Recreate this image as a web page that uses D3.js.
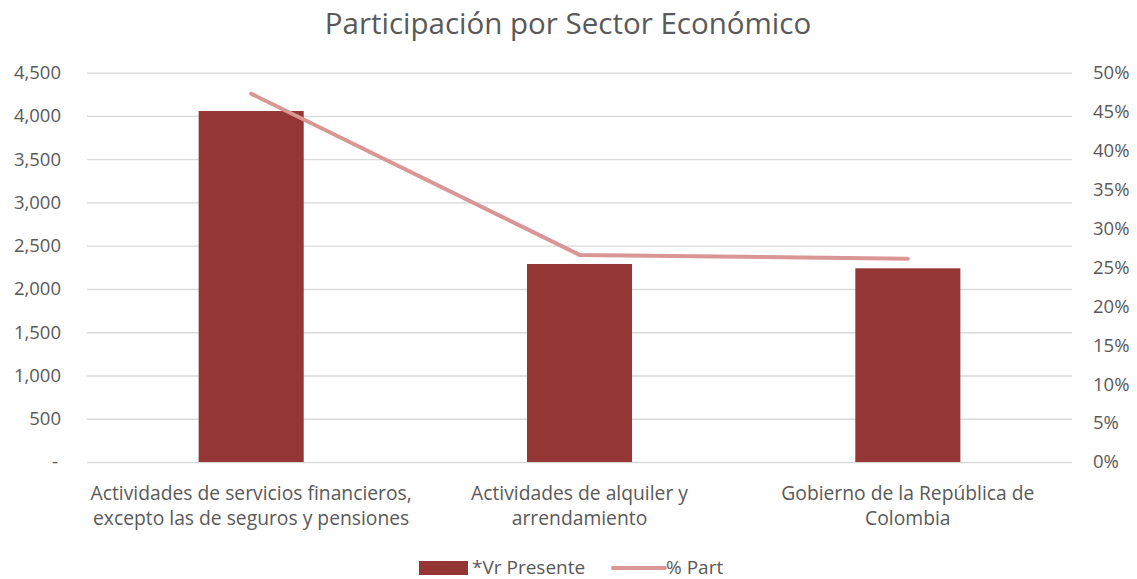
<!DOCTYPE html>
<html><head><meta charset="utf-8">
<script src="https://cdn.jsdelivr.net/npm/d3@7"></script>
<style>body{margin:0;background:#fff}text{font-family:"Open Sans","Noto Sans",sans-serif}</style>
</head><body><svg id="c" width="1137" height="579"></svg>
<script>
const categories = [
  ["Actividades de servicios financieros,", "excepto las de seguros y pensiones"],
  ["Actividades de alquiler y", "arrendamiento"],
  ["Gobierno de la República de", "Colombia"]
];
const vrPresente = [4057, 2289, 2239];
const pctPart = [0.473, 0.266, 0.261];
const leftTicks = [0, 500, 1000, 1500, 2000, 2500, 3000, 3500, 4000, 4500];
const rightTicks = [0, 0.05, 0.10, 0.15, 0.20, 0.25, 0.30, 0.35, 0.40, 0.45, 0.50];
const title = "Participación por Sector Económico";
const seriesNames = ["*Vr Presente", "% Part"];

const svg = d3.select("#c");
const L = 87, R = 1072, T = 72.7, B = 462;
const grey = "#595959";
const x = d3.scaleBand().domain(d3.range(categories.length)).range([L, R]).paddingInner(0.68).paddingOuter(0.34);
const xc = d3.scaleBand().domain(d3.range(categories.length)).range([L, R]);
const y = d3.scaleLinear().domain([0, 4500]).range([B, T]);
const y2 = d3.scaleLinear().domain([0, 0.5]).range([B, T]);

svg.append("text").attr("x", 568).attr("y", 34).attr("text-anchor", "middle")
  .attr("font-size", 29.5).attr("fill", grey).text(title);

// gridlines
const gl = svg.append("g").call(d3.axisLeft(y).tickValues(leftTicks).tickSize(-(R - L)).tickFormat(""))
  .attr("transform", `translate(${L},0)`);
gl.select(".domain").remove();
gl.selectAll("line").attr("stroke", "#d9d9d9").attr("stroke-width", 1.3);

// left axis labels
const la = svg.append("g").attr("transform", `translate(61,0)`)
  .call(d3.axisLeft(y).tickValues(leftTicks).tickSize(0).tickPadding(0)
    .tickFormat(d => d === 0 ? "-" : d3.format(",")(d)));
la.select(".domain").remove();
la.selectAll("text").attr("font-size", 18.5).attr("fill", grey).style("font-family", '"Open Sans",sans-serif');
la.selectAll(".tick").filter(d => d === 0).select("text").attr("dx", -3);

// right axis labels
const ra = svg.append("g").attr("transform", `translate(1093,0)`)
  .call(d3.axisRight(y2).tickValues(rightTicks).tickSize(0).tickPadding(0).tickFormat(d3.format(".0%")));
ra.select(".domain").remove();
ra.selectAll("text").attr("font-size", 18.5).attr("fill", grey).style("font-family", '"Open Sans",sans-serif');

// bars
svg.append("g").selectAll("rect").data(vrPresente).join("rect")
  .attr("x", (d, i) => x(i)).attr("width", x.bandwidth())
  .attr("y", d => y(d)).attr("height", d => B - y(d)).attr("fill", "#943634");

// line
const line = d3.line().x((d, i) => xc(i) + xc.bandwidth() / 2).y(d => y2(d));
svg.append("path").datum(pctPart).attr("d", line).attr("fill", "none")
  .attr("stroke", "#d99694").attr("stroke-width", 4).attr("stroke-linejoin", "round").attr("stroke-linecap", "round");

// category labels
const cl = svg.append("g").selectAll("text").data(categories).join("text")
  .attr("text-anchor", "middle").attr("font-size", 19.3).attr("fill", grey)
  .attr("x", (d, i) => xc(i) + xc.bandwidth() / 2);
cl.each(function(d) {
  d3.select(this).selectAll("tspan").data(d).join("tspan")
    .attr("x", d3.select(this).attr("x")).attr("y", (t, j) => 500 + j * 25).text(t => t);
});

// legend
const lg = svg.append("g");
lg.append("rect").attr("x", 419).attr("y", 561).attr("width", 49).attr("height", 14).attr("fill", "#943634");
lg.append("text").attr("x", 472).attr("y", 574).attr("font-size", 19).attr("fill", grey).text(seriesNames[0]);
lg.append("line").attr("x1", 613).attr("x2", 665).attr("y1", 568).attr("y2", 568)
  .attr("stroke", "#d99694").attr("stroke-width", 4).attr("stroke-linecap", "round");
lg.append("text").attr("x", 666).attr("y", 574).attr("font-size", 19).attr("fill", grey).text(seriesNames[1]);
</script></body></html>
